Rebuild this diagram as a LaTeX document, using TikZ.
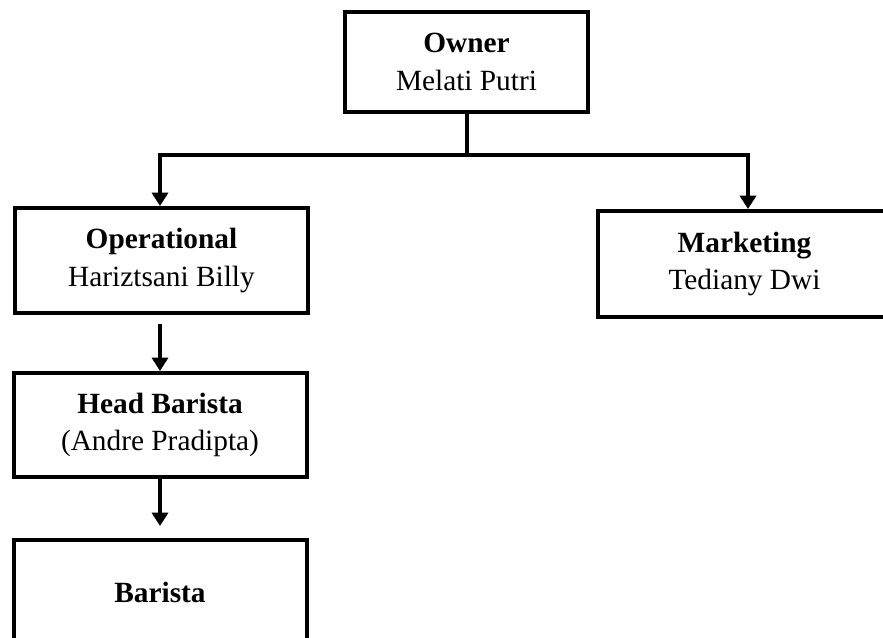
\documentclass[tikz,border=0pt]{standalone}
\usepackage{fontspec}
\setmainfont{Liberation Serif}
\usetikzlibrary{arrows.meta}
\begin{document}
\begin{tikzpicture}[x=0.75pt,y=-0.75pt,
  box/.style={draw,line width=3pt,minimum width=293*0.75pt,inner sep=0pt,align=center,
    font=\fontsize{22}{28}\selectfont},
  conn/.style={line width=3pt},
  arr/.style={line width=3pt,-{Triangle[width=12pt,length=10pt]}}]
\useasboundingbox (0,0) rectangle (883,638);
\clip (0,0) rectangle (883,638);
\node[box,minimum height=100*0.75pt,minimum width=243*0.75pt] (owner) at (466.5,62) {\textbf{Owner}\\Melati Putri};
\node[box,minimum height=105*0.75pt] (oper) at (161.5,260.5) {\textbf{Operational}\\Hariztsani Billy};
\node[box,minimum height=106*0.75pt] (mkt) at (744.5,264) {\textbf{Marketing}\\Tediany Dwi};
\node[box,minimum height=104*0.75pt] (head) at (160,425) {\textbf{Head Barista}\\(Andre Pradipta)};
\node[box,minimum height=104*0.75pt] (bar) at (160,592) {\textbf{Barista}};
\coordinate (bus) at (466.5,155);
\coordinate (busL) at (160,155);
\coordinate (busR) at (748,155);
\draw[conn] (owner.south) -- (bus);
\draw[conn,line cap=rect] (busL) -- (busR);
\draw[arr] (busL) -- (busL |- oper.north);
\draw[arr] (busR) -- (busR |- mkt.north);
\draw[arr,shorten <=9*0.75pt] (oper.south -| head.north) -- (head.north);
\draw[arr,shorten >=12*0.75pt] (head.south) -- (bar.north);
\end{tikzpicture}
\end{document}
